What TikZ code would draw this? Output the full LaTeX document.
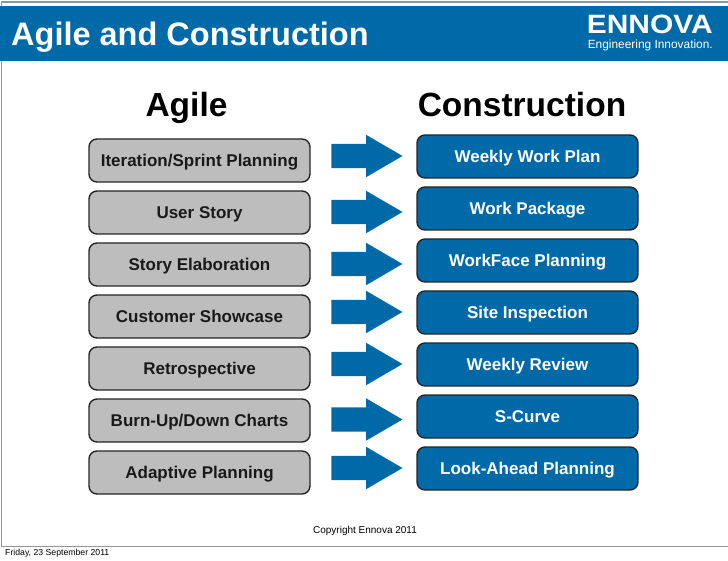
\documentclass[tikz,border=0pt]{standalone}
\usepackage{fontspec}
\setmainfont{Liberation Sans}
\usetikzlibrary{shapes.arrows}
\definecolor{ennovablue}{RGB}{0,106,169}
\definecolor{boxgrey}{RGB}{189,189,189}
\definecolor{framegrey}{RGB}{150,150,150}
\tikzset{
  agilebox/.style={draw=black!85,line width=1.4pt,rounded corners=8pt,fill=boxgrey,minimum width=221pt,minimum height=43pt,inner sep=0pt,text height=12.2pt,text depth=0pt,font=\bfseries\fontsize{17}{19}\selectfont,text=black!90},
  conbox/.style={agilebox,fill=ennovablue,text=white,text height=11.2pt},
  maparrow/.style={single arrow,fill=ennovablue,minimum height=71pt,minimum width=42pt,single arrow head extend=9pt,single arrow tip angle=60.5,inner xsep=0pt,inner ysep=12pt},
  heading/.style={anchor=base,inner sep=0pt,font=\bfseries\fontsize{33.5}{38}\selectfont,text=black}
}
\begin{document}
\begin{tikzpicture}[x=1pt,y=-1pt]
  \useasboundingbox (0,0) rectangle (728,561);
  \fill[white] (0,0) rectangle (728,561);
  % slide frame and banner
  \node [draw=framegrey,line width=1.5pt,minimum width=727pt,minimum height=544pt,inner sep=0pt,anchor=north west] (frame) at (0.5,1.5) {};
  \node [fill=ennovablue,minimum width=728pt,minimum height=55pt,inner sep=0pt,anchor=north west] (banner) at (0,6) {};
  \node [anchor=base west,inner sep=0pt,text=white,font=\bfseries\fontsize{32.5}{36}\selectfont] (title) at (11,46) {Agile and Construction};
  \node [anchor=base east,inner sep=0pt,text=white,xscale=1.13,font=\bfseries\fontsize{26.5}{30}\selectfont] (logo) at (713,34) {ENNOVA};
  \node [anchor=base east,inner sep=0pt,text=white,font=\fontsize{11.9}{14}\selectfont] (tagline) at (713,48.5) {Engineering Innovation.};
  % column headings
  \node [heading] (agilehead) at (186.5,116.7) {Agile};
  \node [heading] (conhead) at (522,116.7) {Construction};
  % rows
  \foreach \row/\agile/\con/\ya/\yb/\yc in {
    1/Iteration\slash Sprint Planning/Weekly Work Plan/160.5/156/156.5,
    2/User Story/Work Package/212.5/212/208.5,
    3/Story Elaboration/WorkFace Planning/264.5/264/260.5,
    4/Customer Showcase/Site Inspection/316.5/312/312.5,
    5/Retrospective/Weekly Review/368.5/364/364.5,
    6/Burn-Up\slash Down Charts/S-Curve/420.5/419.5/416.5,
    7/Adaptive Planning/Look-Ahead Planning/472.5/468/468.5} {
    \node [agilebox] (agile\row) at (199.5,\ya) {\agile};
    \node [maparrow] (arrow\row) at (356.5,\yb) {};
    \node [conbox] (con\row) at (527.5,\yc) {\con};
  }
  % footer
  \node [anchor=base,inner sep=0pt,text=black,font=\fontsize{10}{12}\selectfont] (copyright) at (365,533) {Copyright Ennova 2011};
  \node [anchor=base west,inner sep=0pt,text=black,font=\fontsize{8.7}{11}\selectfont] (datestamp) at (5,555) {Friday, 23 September 2011};
\end{tikzpicture}
\end{document}
